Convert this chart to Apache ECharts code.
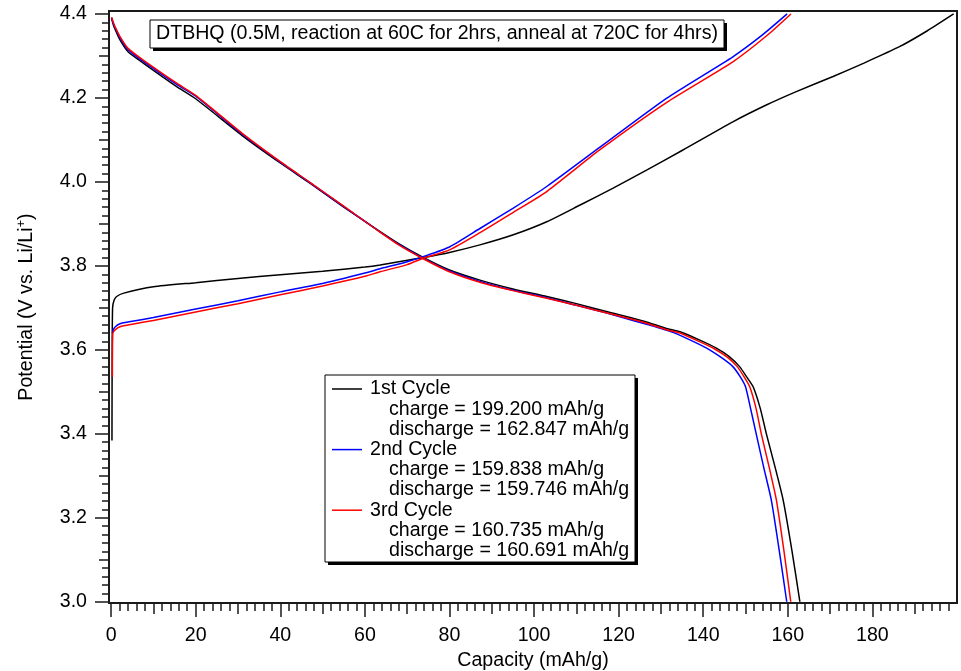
<!DOCTYPE html>
<html>
<head>
<meta charset="utf-8">
<script src="https://cdn.jsdelivr.net/npm/echarts@6/dist/echarts.min.js"></script>
<style>
html,body{margin:0;padding:0;background:#fff;}
#chart{width:961px;height:671px;}
</style>
</head>
<body>
<div id="chart"></div>
<script>
// tick labels
var xMajor = [0, 20, 40, 60, 80, 100, 120, 140, 160, 180];
var yMajor = [3.0, 3.2, 3.4, 3.6, 3.8, 4.0, 4.2, 4.4];

// 1st cycle (black)
var charge1 = [[0.2,3.384],[0.25,3.60],[0.35,3.700],[0.7,3.718],[1.3,3.727],[3,3.735],[10,3.750],[20,3.760],
  [30,3.770],[40,3.779],[50,3.787],[60,3.797],[63.6,3.802],[73.8,3.820],[80,3.832],[87.2,3.850],[95.1,3.874],
  [103,3.905],[110.9,3.945],[118.7,3.985],[126.6,4.028],[135.2,4.076],[147,4.143],[154.9,4.183],[162,4.215],
  [170.7,4.251],[178,4.283],[186.4,4.322],[193,4.360],[199.2,4.400]];
var discharge1 = [[0.1,4.390],[0.5,4.375],[1,4.362],[2.1,4.338],[4,4.310],[7.6,4.283],[15.5,4.227],[20,4.198],
  [31.3,4.108],[40,4.045],[47,3.997],[55,3.940],[62.8,3.887],[68,3.853],[73.8,3.820],[80,3.790],[87.2,3.766],
  [95,3.745],[103,3.727],[110,3.710],[118.7,3.687],[126,3.668],[131.3,3.651],[134.5,3.643],[139.2,3.623],
  [143.1,3.604],[146,3.585],[148.6,3.560],[150.3,3.535],[151.8,3.512],[153.5,3.460],[154.9,3.401],[157,3.320],
  [158.9,3.242],[161,3.120],[162.847,3.000]];

// 2nd cycle (blue)
var charge2 = [[0.3,3.640],[0.5,3.648],[1,3.655],[2.1,3.662],[5,3.668],[10,3.677],[20,3.697],[30,3.717],
  [40,3.738],[50,3.758],[60,3.783],[63.6,3.793],[70,3.810],[73.8,3.822],[80,3.845],[87.2,3.889],[95,3.937],
  [103,3.989],[115.5,4.082],[131.3,4.199],[147,4.298],[154,4.350],[159.838,4.400]];
var discharge2 = [[0.1,4.391],[0.5,4.378],[1,4.366],[2.1,4.343],[4,4.315],[7.6,4.287],[15.5,4.232],[20,4.204],
  [31.3,4.111],[40,4.047],[47,3.998],[55,3.941],[62.8,3.886],[68,3.851],[73.8,3.818],[80,3.788],[87.2,3.763],
  [95,3.742],[103,3.724],[110,3.706],[117,3.688],[124,3.668],[130,3.651],[133,3.641],[137.6,3.620],
  [141.5,3.600],[144.5,3.580],[147,3.560],[148.8,3.535],[150,3.512],[151.2,3.460],[152.5,3.401],[154.3,3.320],
  [156.1,3.242],[158,3.120],[159.746,3.000]];

// 3rd cycle (red)
var charge3 = [[0.3,3.536],[0.4,3.639],[1,3.648],[2.1,3.655],[5,3.661],[10,3.670],[20,3.690],[30,3.710],
  [40,3.731],[50,3.752],[60,3.775],[63.6,3.786],[70,3.803],[73.8,3.818],[80,3.838],[87.2,3.879],[95,3.927],
  [103,3.977],[115.5,4.076],[131.3,4.189],[147,4.286],[155,4.348],[160.735,4.400]];
var discharge3 = [[0.1,4.392],[0.5,4.380],[1,4.368],[2.1,4.346],[4,4.318],[7.6,4.290],[15.5,4.235],[20,4.206],
  [31.3,4.113],[40,4.048],[47,3.999],[55,3.942],[62.8,3.886],[68,3.850],[73.8,3.817],[80,3.786],[87.2,3.761],
  [95,3.741],[103,3.723],[110,3.706],[118.7,3.684],[126,3.665],[131.3,3.648],[134.5,3.640],[139,3.620],
  [142.7,3.602],[145.6,3.583],[148.05,3.560],[149.7,3.535],[151,3.512],[152.5,3.460],[153.7,3.401],[155.6,3.320],
  [157.3,3.242],[159.1,3.120],[160.691,3.000]];

var legendRows = [
  {text: '1st Cycle', color: '#000000'},
  {text: 'charge = 199.200 mAh/g'},
  {text: 'discharge = 162.847 mAh/g'},
  {text: '2nd Cycle', color: '#0000ff'},
  {text: 'charge = 159.838 mAh/g'},
  {text: 'discharge = 159.746 mAh/g'},
  {text: '3rd Cycle', color: '#ff0000'},
  {text: 'charge = 160.735 mAh/g'},
  {text: 'discharge = 160.691 mAh/g'}
];
var titleText = 'DTBHQ (0.5M, reaction at 60C for 2hrs, anneal at 720C for 4hrs)';

var FONT = '"Liberation Sans", Arial, Helvetica, sans-serif';
var FS = 19.6;
var AX = '#1a1a1a';

var xMid = [], xMinor = [], yMid = [], yMinor = [];
for (var i = 0; i < xMajor.length; i++) xMid.push(xMajor[i] + 10);
for (var v = 2; v < 200; v += 2) if (v % 10 !== 0) xMinor.push(v);
for (i = 0; i < yMajor.length - 1; i++) yMid.push(+(yMajor[i] + 0.1).toFixed(2));
for (var k = 150; k <= 220; k++) if (k % 5 !== 0) yMinor.push(+(k * 0.02).toFixed(2));

var XMIN = -0.5, XMAX = 200, YMIN = 2.997, YMAX = 4.407;

function xAx(ticks, len, labels) {
  return {
    type: 'value', min: XMIN, max: XMAX, position: 'bottom',
    axisLine: {show: labels, onZero: false, lineStyle: {color: AX, width: 2}},
    splitLine: {show: false},
    axisTick: {show: true, customValues: ticks, length: len, lineStyle: {color: AX, width: 1.5}},
    axisLabel: labels ? {show: true, customValues: xMajor, margin: 23, color: '#000', fontSize: FS, fontFamily: FONT} : {show: false},
    name: labels ? 'Capacity (mAh/g)' : '',
    nameLocation: 'middle', nameGap: 47,
    nameTextStyle: {color: '#000', fontSize: FS, fontFamily: FONT}
  };
}
function yAx(ticks, len, labels) {
  return {
    type: 'value', min: YMIN, max: YMAX, position: 'left',
    axisLine: {show: labels, onZero: false, lineStyle: {color: AX, width: 2}},
    splitLine: {show: false},
    axisTick: {show: true, customValues: ticks, length: len, lineStyle: {color: AX, width: 1.5}},
    axisLabel: labels ? {show: true, customValues: yMajor, margin: 22, color: '#000', fontSize: FS, fontFamily: FONT,
      formatter: function (val) { return val.toFixed(1); }} : {show: false},
    name: labels ? 'Potential (V vs. Li/Li{sup|+})' : '',
    nameLocation: 'middle', nameGap: 71,
    nameTextStyle: {color: '#000', fontSize: FS, fontFamily: FONT,
      rich: {sup: {fontSize: 13, verticalAlign: 'top', padding: [0, 0, 10, 0], fontFamily: FONT, color: '#000'}}}
  };
}

function line(data, color) {
  return {type: 'line', data: data, showSymbol: false, symbol: 'none', animation: false,
    smooth: 0.2,
    lineStyle: {color: color, width: 1.5}, z: 3};
}

var graphics = [
  {type: 'rect', shape: {x: 153, y: 23, width: 574, height: 28}, style: {fill: '#000'}, z: 10},
  {type: 'rect', shape: {x: 150, y: 20, width: 574, height: 28}, style: {fill: '#fff', stroke: '#000', lineWidth: 1}, z: 11},
  {type: 'text', x: 437, y: 34, style: {text: titleText, font: FS + 'px ' + FONT, fill: '#000', align: 'center', verticalAlign: 'middle'}, z: 12},
  {type: 'rect', shape: {x: 328, y: 378, width: 310, height: 187}, style: {fill: '#000'}, z: 10},
  {type: 'rect', shape: {x: 325, y: 375, width: 310, height: 187}, style: {fill: '#fff', stroke: '#000', lineWidth: 1}, z: 11}
];
for (i = 0; i < legendRows.length; i++) {
  var r = legendRows[i];
  var yy = 389 + i * 20.2;
  if (r.color) {
    graphics.push({type: 'line', shape: {x1: 332, y1: yy, x2: 362, y2: yy}, style: {stroke: r.color, lineWidth: 1.5}, z: 12});
  }
  graphics.push({type: 'text', x: r.color ? 370 : 389, y: yy,
    style: {text: r.text, font: FS + 'px ' + FONT, fill: '#000', verticalAlign: 'middle'}, z: 12});
}

var myChart = echarts.init(document.getElementById('chart'));
myChart.setOption({
  animation: false,
  backgroundColor: '#fff',
  grid: {left: 109, top: 11, right: 4, bottom: 68, show: true, borderColor: AX, borderWidth: 2,
    backgroundColor: 'transparent', containLabel: false, outerBoundsMode: 'none'},
  xAxis: [xAx(xMid, 11, true), xAx(xMajor, 14, false), xAx(xMinor, 8, false)],
  yAxis: [yAx(yMid, 10, true), yAx(yMajor, 14, false), yAx(yMinor, 7, false)],
  series: [
    line(charge1, '#000000'), line(discharge1, '#000000'),
    line(charge2, '#0000ff'), line(discharge2, '#0000ff'),
    line(charge3, '#ff0000'), line(discharge3, '#ff0000')
  ],
  graphic: graphics
});
</script>
</body>
</html>
